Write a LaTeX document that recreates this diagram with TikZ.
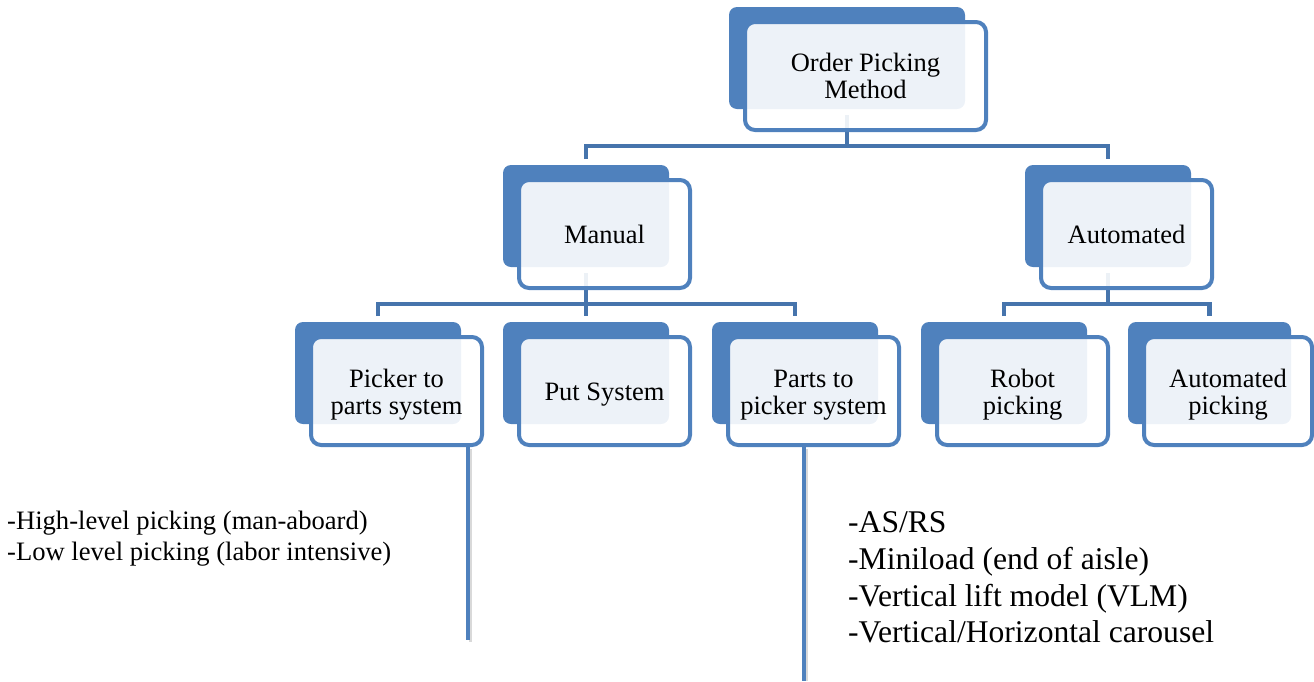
\documentclass[tikz,border=0pt]{standalone}
\usepackage{fontspec}
\setmainfont{Liberation Serif}
\usetikzlibrary{calc}
\definecolor{accent}{HTML}{4F81BD}
\definecolor{conn}{HTML}{4674AC}
\newcommand\lowstrut{\rule{0pt}{25.5pt}}
\tikzset{
  backbox/.style={fill=accent, draw=none, rounded corners=8pt, inner sep=0pt, outer sep=0pt, anchor=north west},
  frontbox/.style={draw=accent, line width=4pt, fill=white, fill opacity=0.9, text opacity=1,
    rounded corners=10pt, inner sep=0pt, outer sep=0pt, anchor=north west, align=center,
    font=\fontsize{26.5}{26.7}\selectfont},
  link/.style={draw=conn, line width=4.5pt},
  longline/.style={draw=accent, line width=4.5pt},
  longshadow/.style={draw=black, opacity=0.15, line width=3pt},
}
\begin{document}
\begin{tikzpicture}[x=1pt,y=-1pt]
\useasboundingbox (0,0) rectangle (1314,681);

% back (blue) rectangles
\node[backbox, minimum width=236pt, minimum height=102pt] (topb) at (729,7) {};
\node[backbox, minimum width=166pt, minimum height=102pt] (manb) at (503,165) {};
\node[backbox, minimum width=166pt, minimum height=102pt] (autb) at (1025,165) {};
\node[backbox, minimum width=166pt, minimum height=102pt] (pickb) at (295,322) {};
\node[backbox, minimum width=166pt, minimum height=102pt] (putb) at (503,322) {};
\node[backbox, minimum width=166pt, minimum height=102pt] (partsb) at (712,322) {};
\node[backbox, minimum width=166pt, minimum height=102pt] (robotb) at (921,322) {};
\node[backbox, minimum width=163pt, minimum height=102pt] (apickb) at (1128,322) {};

% bus coordinates
\coordinate (bus1) at (847,146);
\coordinate (bus2) at (586,304);
\coordinate (bus3) at (1108,304);

% connectors (drawn under the front boxes)
\draw[link] ($(topb.south)+(0,6)$) -- (topb.south |- bus1);
\draw[link] ($(manb.north)+(0,-6)$) |- (bus1) -| ($(autb.north)+(0,-6)$);
\draw[link] ($(manb.south)+(0,6)$) -- ($(putb.north)+(0,-6)$);
\draw[link] ($(pickb.north)+(0,-6)$) |- (bus2) -| ($(partsb.north)+(0,-6)$);
\draw[link] ($(autb.south)+(0,6)$) -- (autb.south |- bus3);
\draw[link] ($(robotb.north)+(0,-6)$) |- (bus3) -| ($(apickb.north)+(0,-6)$);

% front (white) boxes with text
\node[frontbox, minimum width=241pt, minimum height=108pt] (top) at (745,22) {Order Picking\\Method};
\node[frontbox, minimum width=171pt, minimum height=108pt] (man) at (519,180) {Manual};
\node[frontbox, minimum width=171pt, minimum height=108pt] (aut) at (1041,180) {Automated};
\node[frontbox, minimum width=171pt, minimum height=108pt] (pick) at (311,337) {\lowstrut Picker to\\parts system};
\node[frontbox, minimum width=171pt, minimum height=108pt] (put) at (519,337) {\lowstrut Put System};
\node[frontbox, minimum width=171pt, minimum height=108pt] (parts) at (728,337) {\lowstrut Parts to\\picker system};
\node[frontbox, minimum width=171pt, minimum height=108pt] (robot) at (937,337) {\lowstrut Robot\\picking};
\node[frontbox, minimum width=168pt, minimum height=108pt] (apick) at (1144,337) {\lowstrut Automated\\picking};

% long lines to the descriptions
\coordinate (pickend) at (468,640);
\coordinate (partsend) at (804,681);
\draw[longshadow] ($(pick.south -| pickend)+(2.5,4)$) -- ($(pickend)+(2.5,2)$);
\draw[longshadow] ($(parts.south -| partsend)+(2.5,4)$) -- ($(partsend)+(2.5,0)$);
\draw[longline] (pick.south -| pickend) -- (pickend);
\draw[longline] (parts.south -| partsend) -- (partsend);

% descriptions
\node[anchor=north west, inner sep=0pt, align=left, font=\fontsize{26.6}{31}\selectfont] (lefttxt) at (7,510.5)
  {-High-level picking (man-aboard)\\-Low level picking (labor intensive)};
\node[anchor=north west, inner sep=0pt, align=left, font=\fontsize{31.6}{36.7}\selectfont] (righttxt) at (848,511.5)
  {-AS/RS\\-Miniload (end of aisle)\\-Vertical lift model (VLM)\\-Vertical/Horizontal carousel};
\end{tikzpicture}
\end{document}
